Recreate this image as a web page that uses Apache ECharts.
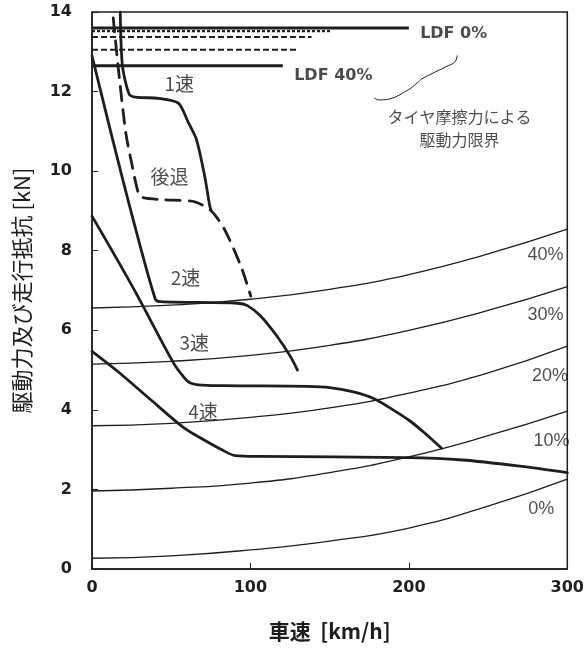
<!DOCTYPE html>
<html><head><meta charset="utf-8">
<script src="https://cdn.jsdelivr.net/npm/echarts@6/dist/echarts.min.js"></script>
<style>html,body{margin:0;padding:0;background:#fff}#c{width:587px;height:650px}</style>
</head><body><div id="c"></div>
<script>
// ---- data ----
const speedGrid = [0, 50, 100, 150, 200, 250, 300];
const res0  = [0.27, 0.33, 0.48, 0.70, 1.03, 1.58, 2.26];
const res10 = [1.96, 2.03, 2.16, 2.42, 2.82, 3.35, 3.97];
const res20 = [3.60, 3.66, 3.81, 4.05, 4.42, 4.93, 5.60];
const res30 = [5.15, 5.22, 5.37, 5.62, 6.00, 6.50, 7.10];
const res40 = [6.56, 6.63, 6.78, 7.03, 7.40, 7.92, 8.54];

const gear1X = [17.8, 19.2, 23.4, 27.5, 42, 54.5, 60.7, 65.9, 71.1, 74.3, 75.3];
const gear1Y = [14.0, 12.65, 11.94, 11.86, 11.83, 11.71, 11.23, 10.8, 9.88, 9.13, 9.0];
const revX = [13.4, 16.3, 21.3, 25.4, 29.2, 31.7, 45, 64.9, 75.3, 83.6, 94, 100.2];
const revY = [13.85, 12.7, 10.97, 10.13, 9.46, 9.34, 9.28, 9.23, 9.0, 8.54, 7.61, 6.86];
const gear2X = [0, 13, 25.4, 40, 43.1, 91.9, 98.1, 106.4, 116.8, 125.1, 129.7];
const gear2Y = [12.9, 10.8, 8.87, 6.78, 6.72, 6.68, 6.62, 6.36, 5.85, 5.35, 5.0];
const gear3X = [0, 26.5, 51.4, 57.6, 61.8, 67, 82.6, 135.6, 150, 165, 177.4, 190, 200.7, 210.5, 220.5];
const gear3Y = [8.87, 7.03, 5.18, 4.84, 4.68, 4.63, 4.61, 4.59, 4.56, 4.45, 4.29, 4.0, 3.72, 3.40, 3.04];
const gear4X = [0, 16.1, 36.9, 57.6, 68.3, 82.3, 90.4, 105.6, 198.8, 233.8, 268.8, 300];
const gear4Y = [5.47, 4.97, 4.26, 3.56, 3.30, 2.99, 2.85, 2.83, 2.8, 2.74, 2.59, 2.42];

const ldfLevels = [13.60, 13.52, 13.37, 13.05, 12.65];
const ldfEnds   = [200, 151, 138.6, 130.3, 120.4];

const braceX = [178.1, 181.2, 187.4, 199.9, 204.5, 205.7, 208.2, 224.8, 229, 230.6];
const braceY = [11.84, 11.79, 11.81, 12.05, 12.19, 12.23, 12.32, 12.65, 12.74, 12.91];

const gearLabels  = ['1速', '後退', '2速', '3速', '4速'];
const gearLabelX  = [55.1, 48.9, 59, 64.5, 70];
const gearLabelY  = [12.2, 9.85, 7.32, 5.68, 3.95];
const ldfLabels   = ['LDF 0%', 'LDF 40%'];
const ldfLabelX   = [228.3, 152.3];
const ldfLabelY   = [13.46, 12.4];
const gradeLabels = ['40%', '30%', '20%', '10%', '0%'];
const gradeLabelX = [286.3, 286.3, 289.1, 290, 283.5];
const gradeLabelY = [7.9, 6.39, 4.84, 3.22, 1.5];
const noteLabels  = ['タイヤ摩擦力による', '駆動力限界'];
const noteLabelX  = [232, 232];
const noteLabelY  = [11.36, 10.78];

const xTicks = [0, 100, 200, 300];
const yTicks = [0, 2, 4, 6, 8, 10, 12, 14];

// ---- build ----
const INK = '#1e1e1e';
const zip = (xs, ys) => xs.map((x, i) => [x, ys[i]]);
const series = [];
[res0, res10, res20, res30, res40].forEach(r => {
  series.push({type: 'line', data: zip(speedGrid, r), symbol: 'none', smooth: 0.5,
    lineStyle: {color: INK, width: 1.3}, z: 2});
});
const gearStyle = (xs, ys, type, sm) => ({type: 'line', data: zip(xs, ys), symbol: 'none', smooth: sm,
  lineStyle: {color: INK, width: 2.8, type: type || 'solid', cap: 'round', join: 'round'}, z: 3});
series.push(gearStyle(gear1X, gear1Y, 'solid', 0.25));
series.push(gearStyle(revX, revY, [14, 9], 0.25));
series.push(gearStyle(gear2X, gear2Y, 'solid', 0.3));
series.push(gearStyle(gear3X, gear3Y, 'solid', 0.35));
series.push(gearStyle(gear4X, gear4Y, 'solid', 0.3));
const ldfTypes = ['solid', [3, 2], [6, 3], [6, 3], 'solid'];
const ldfWidths = [3, 2.2, 2, 2, 3];
ldfLevels.forEach((lv, i) => {
  series.push({type: 'line', data: [[0, lv], [ldfEnds[i], lv]], symbol: 'none',
    lineStyle: {color: INK, width: ldfWidths[i], type: ldfTypes[i]}, z: 3});
});
series.push({type: 'line', data: zip(braceX, braceY), symbol: 'none', smooth: 0.4,
  lineStyle: {color: INK, width: 1}, z: 3});

function labelSeries(texts, xs, ys, font) {
  return {type: 'scatter', symbolSize: 1, itemStyle: {color: 'rgba(0,0,0,0)'},
    data: texts.map((t, i) => [xs[i], ys[i], t]), z: 5, silent: true,
    label: Object.assign({show: true, position: 'inside', align: 'center', verticalAlign: 'middle',
      color: INK, formatter: p => p.data[2]}, font)};
}
series.push(labelSeries(gearLabels, gearLabelX, gearLabelY, {fontFamily: 'Noto Sans CJK JP', fontSize: 19}));
series.push(labelSeries(ldfLabels, ldfLabelX, ldfLabelY, {fontFamily: 'DejaVu Sans', fontWeight: 'bold', fontSize: 16}));
series.push(labelSeries(gradeLabels, gradeLabelX, gradeLabelY, {fontFamily: 'Liberation Sans', fontSize: 18}));
series.push(labelSeries(noteLabels, noteLabelX, noteLabelY, {fontFamily: 'Noto Sans CJK JP', fontSize: 16}));

const chart = echarts.init(document.getElementById('c'), null, {renderer: 'canvas'});
chart.setOption({
  animation: false,
  backgroundColor: '#fff',
  grid: {left: 92, right: 13, top: 12, bottom: 81, show: true, borderColor: INK, borderWidth: 1.5},
  xAxis: {type: 'value', min: xTicks[0], max: xTicks[xTicks.length - 1], interval: xTicks[1] - xTicks[0],
    axisLine: {lineStyle: {color: INK, width: 1.5}},
    axisTick: {inside: true, length: 6, lineStyle: {color: INK}},
    splitLine: {show: false},
    axisLabel: {fontFamily: 'DejaVu Sans', fontWeight: 'bold', fontSize: 16, color: INK, margin: 11},
    name: '車速  [km/h]', nameLocation: 'middle', nameGap: 52,
    nameTextStyle: {fontFamily: 'Noto Sans CJK JP', fontWeight: 'bold', fontSize: 21, color: INK}},
  yAxis: {type: 'value', min: yTicks[0], max: yTicks[yTicks.length - 1], interval: yTicks[1] - yTicks[0],
    axisLine: {lineStyle: {color: INK, width: 1.5}},
    axisTick: {inside: true, length: 6, lineStyle: {color: INK}},
    splitLine: {show: false},
    axisLabel: {fontFamily: 'DejaVu Sans', fontWeight: 'bold', fontSize: 16, color: INK, margin: 20},
    name: '駆動力及び走行抵抗 [kN]', nameLocation: 'middle', nameGap: 59, nameRotate: 90,
    nameTextStyle: {fontFamily: 'Noto Sans CJK JP', fontSize: 22, color: INK}},
  series: series
});
</script></body></html>
